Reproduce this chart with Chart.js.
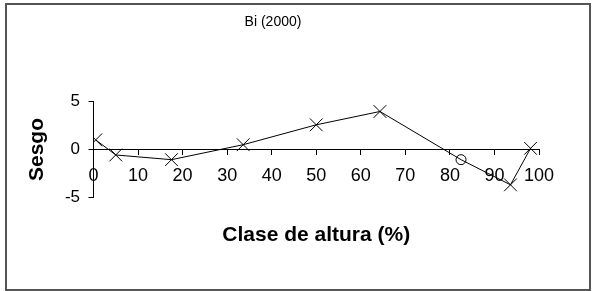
<!DOCTYPE html>
<html>
<head>
<meta charset="utf-8">
<script src="https://cdn.jsdelivr.net/npm/chart.js@4.4.0/dist/chart.umd.min.js"></script>
<style>
  html, body { margin: 0; padding: 0; background: #fff; }
  #wrap { position: relative; width: 593px; height: 291px; }
  #frame {
    position: absolute; left: 5px; top: 3px; width: 586px; height: 288px;
    box-sizing: border-box; border: 2px solid #555;
  }
  #chart { position: absolute; left: 0; top: 0; }
</style>
</head>
<body>
<div id="wrap">
  <div id="frame"></div>
  <canvas id="chart" width="593" height="291"></canvas>
</div>
<script>
const chartTitle = "Bi (2000)";
const xTitle = "Clase de altura (%)";
const yTitle = "Sesgo";

// height class (%) and skew
const alturas = [0.5, 5, 17.5, 33.6, 50, 64.3, 82.5, 93.6, 98.1];
const sesgo = [1.0, -0.57, -1.06, 0.5, 2.57, 3.96, -1.06, -3.68, 0.12];
const marcadores = ["crossRot", "crossRot", "crossRot", "crossRot", "crossRot", "crossRot", "circle", "crossRot", "crossRot"];

const xTicks = [0, 10, 20, 30, 40, 50, 60, 70, 80, 90, 100];
const yTicks = [-5, 0, 5];

const FONT = "'Liberation Sans', Arial, sans-serif";

const ctx = document.getElementById("chart").getContext("2d");

new Chart(ctx, {
  type: "scatter",
  data: {
    datasets: [
      {
        data: alturas.map((x, i) => ({ x: x, y: sesgo[i] })),
        showLine: true,
        borderColor: "#000",
        borderWidth: 1,
        tension: 0,
        pointStyle: marcadores,
        pointRadius: marcadores.map(m => (m === "circle" ? 5 : 9)),
        pointBorderColor: "#000",
        pointBorderWidth: 1,
        pointBackgroundColor: "rgba(0,0,0,0)",
      },
    ],
  },
  options: {
    responsive: false,
    animation: false,
    devicePixelRatio: 1,
    // x axis sits on y = 0 and takes no room, so the bottom padding holds its labels and title
    layout: { padding: { left: 7, right: 54, top: 0, bottom: 93.5 } },
    plugins: {
      legend: { display: false },
      tooltip: { enabled: false },
      title: {
        display: true,
        text: chartTitle,
        color: "#000",
        font: { family: FONT, size: 14, weight: "normal", lineHeight: 1.2 },
        padding: { top: 13.6, bottom: 71.1 },
      },
    },
    scales: {
      x: {
        type: "linear",
        min: 0,
        max: 100,
        position: { y: 0 },
        afterBuildTicks: s => { s.ticks = xTicks.map(v => ({ value: v })); },
        afterFit: s => { s.height = 94.5; },
        grid: { drawOnChartArea: false, drawTicks: true, tickLength: 5, color: "#000" },
        border: { display: true, color: "#000", width: 1 },
        ticks: { color: "#000", padding: 11.2, maxRotation: 0, autoSkip: false, font: { family: FONT, size: 18 } },
        title: {
          display: true,
          text: xTitle,
          color: "#000",
          font: { family: FONT, size: 21, weight: "bold", lineHeight: 18 / 21 },
          padding: { top: 0, bottom: 0 },
        },
      },
      y: {
        type: "linear",
        min: -5,
        max: 5,
        position: "left",
        afterBuildTicks: s => { s.ticks = yTicks.map(v => ({ value: v })); },
        afterFit: s => { s.width = 86.5; },
        grid: { drawOnChartArea: false, drawTicks: true, tickLength: 5, color: "#000" },
        border: { display: true, color: "#000", width: 1 },
        ticks: { color: "#000", padding: 8.5, font: { family: FONT, size: 17 } },
        title: {
          display: true,
          text: yTitle,
          color: "#000",
          font: { family: FONT, size: 21, weight: "bold", lineHeight: 1 },
          padding: { top: 20, bottom: 0 },
        },
      },
    },
  },
});
</script>
</body>
</html>
